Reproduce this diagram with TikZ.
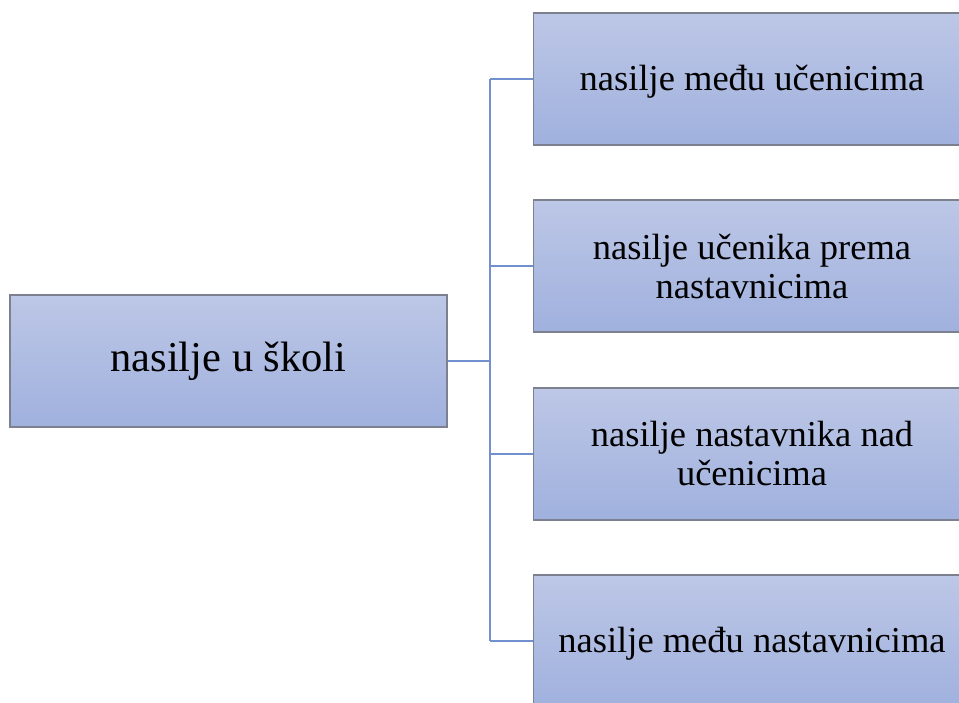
\documentclass[tikz,border=0pt]{standalone}
\usepackage{fontspec}
\setmainfont{Liberation Serif}
\definecolor{boxtop}{RGB}{189,199,230}
\definecolor{boxbot}{RGB}{160,177,222}
\definecolor{boxline}{RGB}{125,128,142}
\definecolor{connline}{RGB}{114,143,207}
\tikzset{
  box/.style={rectangle, draw=boxline, line width=1.3pt, top color=boxtop, bottom color=boxbot,
    minimum width=437pt, minimum height=132pt, align=center, inner sep=0pt, text=black},
  rootfont/.style={font=\fontsize{42.5}{46}\selectfont},
  leaffont/.style={font=\fontsize{36.5}{39}\selectfont},
  conn/.style={draw=connline, line width=2.6pt}
}
\begin{document}
\begin{tikzpicture}[x=1pt,y=-1pt]
\useasboundingbox (0,0) rectangle (959,702);
\clip (0,0) rectangle (959,702);
\fill[white] (0,0) rectangle (959,702);
\node[box, rootfont, minimum width=437pt] (root) at (228.5,361) {nasilje u školi};
\node[box, leaffont, text depth=2pt] (b1) at (752,79) {nasilje među učenicima};
\node[box, leaffont] (b2) at (752,266) {nasilje učenika prema\\nastavnicima};
\node[box, leaffont] (b3) at (752,454) {nasilje nastavnika nad\\učenicima};
\node[box, leaffont, text depth=2pt] (b4) at (752,641) {nasilje među nastavnicima};
\coordinate (j) at (490,361);
\draw[conn] (root.east) -- (j);
\draw[conn] (j |- b1.west) -- (j |- b4.west);
\foreach \b in {b1,b2,b3,b4} \draw[conn] (j |- \b.west) -- (\b.west);
\end{tikzpicture}
\end{document}
